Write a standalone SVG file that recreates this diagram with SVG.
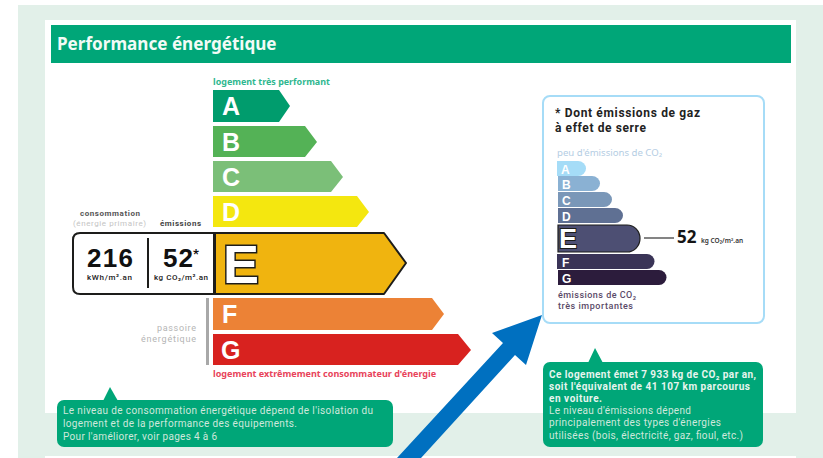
<svg xmlns="http://www.w3.org/2000/svg" width="823" height="458" viewBox="0 0 823 458">
<style>
text{font-family:"Noto Sans","Open Sans","Liberation Sans",sans-serif}
.r{font-family:Roboto,"Liberation Sans",sans-serif}
.b{font-weight:700}
.l{font-weight:700;fill:#fff;font-size:25px;font-family:"Liberation Sans",sans-serif}
.s{font-weight:700;fill:#fff;font-size:12px;font-family:"Liberation Sans",sans-serif}
.e{font-weight:700;fill:#fff;stroke:#1d1d1b;paint-order:stroke;font-family:"Liberation Sans",sans-serif}
.d{font-weight:700;fill:#111;font-size:26px;font-family:"Liberation Sans",sans-serif}
.n{font-size:10px;fill:#cfe8dc;font-family:Roboto,"Liberation Sans",sans-serif}
.nb{font-size:10px;fill:#e8f5ef;font-weight:700;font-family:Roboto,"Liberation Sans",sans-serif}
.u{font-size:8px;font-weight:500;fill:#222;font-family:Roboto,"Liberation Sans",sans-serif}
.g{font-size:9px;font-weight:500;fill:#5a4a68;font-family:Roboto,"Liberation Sans",sans-serif}
.p{font-size:9px;fill:#b5b5b5;font-family:Roboto,"Liberation Sans",sans-serif}
.h{font-size:12px;font-weight:700;fill:#222;font-family:Roboto,"Liberation Sans",sans-serif}
</style>
<rect width="823" height="458" fill="#fff"/>
<rect x="18" y="5" width="805" height="453" fill="#e2f0e9"/>
<rect x="45" y="20" width="751" height="393" fill="#fff"/>
<rect x="45" y="456" width="751" height="2" fill="#fff"/>
<g id="title"><rect x="51" y="25" width="740" height="38" fill="#00a678"/><text x="57" y="50" font-size="17.1" class="b" fill="#f2fbf6">Performance énergétique</text></g>
<g id="scale-energy">
<text x="213" y="85" font-size="8.95" class="b" fill="#2fb78f">logement très performant</text>
<g id="A"><polygon points="213,90 279,90 290,106 279,122 213,122" fill="#009c6d"/><text x="222" y="115" class="l">A</text></g>
<g id="B"><polygon points="213,126 305,126 317,142 305,157 213,157" fill="#54b256"/><text x="222" y="151" class="l">B</text></g>
<g id="C"><polygon points="213,161 331,161 343,177 331,192 213,192" fill="#7bbf78"/><text x="222" y="186" class="l">C</text></g>
<g id="D"><polygon points="213,196 357,196 369,212 357,227 213,227" fill="#f4e70f"/><text x="222" y="221" class="l">D</text></g>
<g id="F"><polygon points="213,298 432,298 444,314 432,330 213,330" fill="#ec8236"/><text x="222" y="323" class="l">F</text></g>
<g id="G"><polygon points="213,334 458,334 471,350 458,365 213,365" fill="#d8221f"/><text x="221" y="359" class="l">G</text></g>
<text x="213" y="377" font-size="9.05" class="b" fill="#e8435a">logement extrêmement consommateur d'énergie</text>
</g>
<g id="E-row">
<path d="M80,233 H214 V294 H80 Q73,294 73,287 V240 Q73,233 80,233 Z" fill="#fff" stroke="#1d1d1b" stroke-width="2"/>
<polygon points="215,233 384,233 406,263 384,294 215,294" fill="#f0b40f" stroke="#1d1d1b" stroke-width="2" stroke-linejoin="round"/>
<line x1="148" y1="238" x2="148" y2="288" stroke="#1d1d1b" stroke-width="2"/>
<text x="87" y="267" class="d" textLength="46">216</text>
<text x="87" y="280" class="u" textLength="45">kWh/m².an</text>
<text x="163" y="267" class="d" textLength="30">52</text>
<text x="193" y="258" font-size="13" class="r b" fill="#111">*</text>
<text x="154" y="280" class="u" textLength="54">kg CO₂/m².an</text>
<text x="223" y="283" font-size="54" class="e" stroke-width="3">E</text>
<text x="80" y="216" font-size="8" class="r b" fill="#555" textLength="60">consommation</text>
<text x="73" y="226" font-size="8" class="r" fill="#c4c4c4" textLength="73">(énergie primaire)</text>
<text x="160" y="226" font-size="8" class="r b" fill="#444" textLength="41">émissions</text>
</g>
<g id="passoire">
<rect x="206" y="298" width="3" height="67" fill="#a8a8a8"/>
<text x="157" y="331" class="p" textLength="39">passoire</text>
<text x="141" y="342" class="p" textLength="55">énergétique</text>
</g>
<g id="note-left">
<polygon points="103,401 110,387 118,401" fill="#00a678"/>
<rect x="57" y="400" width="336" height="47" rx="7" fill="#00a678"/>
<text x="63" y="414" class="n" textLength="310">Le niveau de consommation énergétique dépend de l'isolation du</text>
<text x="63" y="427" class="n" textLength="234">logement et de la performance des équipements.</text>
<text x="63" y="440" class="n" textLength="154">Pour l'améliorer, voir pages 4 à 6</text>
</g>
<g id="ges-panel">
<rect x="543" y="96" width="221" height="227" rx="7" fill="#fff" stroke="#a6dcf7" stroke-width="2"/>
<text x="555" y="117" class="h" textLength="145">* Dont émissions de gaz</text>
<text x="555" y="132" class="h" textLength="91">à effet de serre</text>
<text x="557" y="156" font-size="9.6" fill="#b4cde3">peu d'émissions de CO₂</text>
<path d="M557,161 H578 A8,7.5 0 0 1 578,176 H557 Z" fill="#a5dcf7"/><text x="561" y="174" class="s">A</text>
<path d="M558,176 H592 A8,7.5 0 0 1 592,191 H558 Z" fill="#8ab1d3"/><text x="562" y="189" class="s">B</text>
<path d="M558,192 H604 A8,7.5 0 0 1 604,207 H558 Z" fill="#7a97b8"/><text x="562" y="205" class="s">C</text>
<path d="M558,208 H615 A8,7.5 0 0 1 615,223 H558 Z" fill="#5f7093"/><text x="562" y="221" class="s">D</text>
<path d="M558,225 H627 A13,13.5 0 0 1 627,252 H558 Z" fill="#4d4f73" stroke="#1d1d1b" stroke-width="1.2"/>
<text x="559" y="248" font-size="27" class="e" stroke-width="2">E</text>
<path d="M557,254 H647 A7.5,7.5 0 0 1 647,269 H557 Z" fill="#3a3457"/><text x="562" y="267" class="s">F</text>
<path d="M558,270 H659 A7.5,7.5 0 0 1 659,285 H558 Z" fill="#2c1c3c"/><text x="562" y="283" class="s">G</text>
<line x1="644" y1="238" x2="674" y2="238" stroke="#333" stroke-width="1.2"/>
<text x="677" y="243" font-size="17" class="b" fill="#151515">52</text>
<text x="701" y="243" font-size="6.5" font-weight="600" fill="#333">kg CO₂/m².an</text>
<text x="558" y="298" class="g" textLength="78">émissions de CO₂</text>
<text x="558" y="309" class="g" textLength="75">très importantes</text>
</g>
<g id="note-right">
<polygon points="588,363 595,348 603,363" fill="#00a678"/>
<rect x="543" y="362" width="220" height="85" rx="7" fill="#00a678"/>
<text x="549" y="378" class="nb" textLength="207">Ce logement émet 7 933 kg de CO₂ par an,</text>
<text x="549" y="390" class="nb" textLength="201">soit l'équivalent de 41 107 km parcourus</text>
<text x="549" y="402" class="nb" textLength="53">en voiture.</text>
<text x="549" y="414" class="n" textLength="142">Le niveau d'émissions dépend</text>
<text x="549" y="426" class="n" textLength="172">principalement des types d'énergies</text>
<text x="549" y="439" class="n" textLength="194">utilisées (bois, électricité, gaz, fioul, etc.)</text>
</g>
<g id="connectors">
<polygon points="542,315 526,365 515,355 421,458 397,458 503,343 492,333" fill="#0070c0"/>
</g>
</svg>
